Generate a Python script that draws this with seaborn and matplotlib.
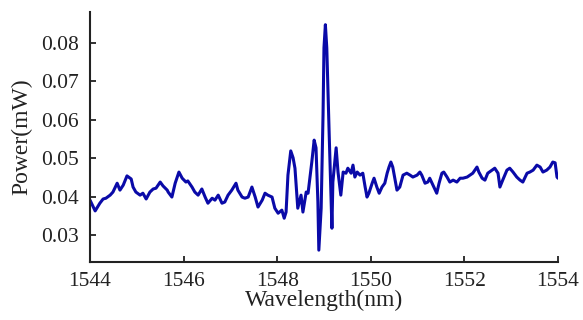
import numpy as np
import pandas as pd
import matplotlib
matplotlib.use('Agg')
import matplotlib.pyplot as plt
import seaborn as sns

# spectrum
wavelength = [1544.00, 1544.11, 1544.21, 1544.28, 1544.34, 1544.43, 1544.49, 1544.58, 1544.64, 1544.71,
              1544.79, 1544.88, 1544.92, 1544.98, 1545.07, 1545.13, 1545.20, 1545.28, 1545.35, 1545.41,
              1545.50, 1545.56, 1545.65, 1545.67, 1545.75, 1545.82, 1545.90, 1545.97, 1546.05, 1546.09,
              1546.18, 1546.24, 1546.31, 1546.39, 1546.46, 1546.52, 1546.61, 1546.67, 1546.74, 1546.82,
              1546.88, 1546.95, 1547.03, 1547.12, 1547.16, 1547.25, 1547.31, 1547.38, 1547.46, 1547.53,
              1547.59, 1547.68, 1547.74, 1547.80, 1547.89, 1547.95, 1548.02, 1548.10, 1548.15, 1548.19,
              1548.23, 1548.29, 1548.34, 1548.38, 1548.44, 1548.51, 1548.55, 1548.62, 1548.66, 1548.74,
              1548.79, 1548.83, 1548.87, 1548.89, 1548.94, 1548.98, 1549.00, 1549.03, 1549.06, 1549.11,
              1549.15, 1549.17, 1549.19, 1549.26, 1549.30, 1549.36, 1549.41, 1549.47, 1549.51, 1549.58,
              1549.62, 1549.66, 1549.71, 1549.77, 1549.83, 1549.88, 1549.92, 1549.96, 1550.03, 1550.07,
              1550.13, 1550.18, 1550.24, 1550.30, 1550.35, 1550.39, 1550.43, 1550.47, 1550.52, 1550.56,
              1550.62, 1550.69, 1550.77, 1550.84, 1550.90, 1550.99, 1551.05, 1551.09, 1551.16, 1551.22,
              1551.26, 1551.33, 1551.41, 1551.46, 1551.52, 1551.56, 1551.63, 1551.69, 1551.76, 1551.84,
              1551.91, 1551.97, 1552.06, 1552.12, 1552.18, 1552.27, 1552.31, 1552.38, 1552.44, 1552.50,
              1552.59, 1552.65, 1552.72, 1552.76, 1552.82, 1552.91, 1552.97, 1553.04, 1553.12, 1553.19,
              1553.25, 1553.34, 1553.40, 1553.47, 1553.55, 1553.62, 1553.68, 1553.76, 1553.83, 1553.89,
              1553.94, 1553.98, 1554.00]
power = [0.0391, 0.0363, 0.0383, 0.0394, 0.0396, 0.0404, 0.0412, 0.0435, 0.0417, 0.0430,
         0.0454, 0.0446, 0.0425, 0.0412, 0.0404, 0.0409, 0.0394, 0.0412, 0.0420, 0.0422,
         0.0438, 0.0428, 0.0417, 0.0412, 0.0399, 0.0435, 0.0464, 0.0448, 0.0438, 0.0441,
         0.0425, 0.0412, 0.0404, 0.0420, 0.0399, 0.0383, 0.0396, 0.0391, 0.0404, 0.0383,
         0.0386, 0.0404, 0.0417, 0.0435, 0.0417, 0.0399, 0.0396, 0.0399, 0.0425, 0.0399,
         0.0373, 0.0391, 0.0409, 0.0404, 0.0399, 0.0370, 0.0357, 0.0365, 0.0344, 0.0360,
         0.0456, 0.0519, 0.0501, 0.0474, 0.0370, 0.0404, 0.0360, 0.0412, 0.0409, 0.0490,
         0.0547, 0.0527, 0.0386, 0.0261, 0.0370, 0.0613, 0.0787, 0.0847, 0.0787, 0.0568,
         0.0404, 0.0318, 0.0438, 0.0527, 0.0464, 0.0404, 0.0464, 0.0461, 0.0474, 0.0461,
         0.0482, 0.0451, 0.0464, 0.0456, 0.0461, 0.0425, 0.0399, 0.0409, 0.0435, 0.0448,
         0.0425, 0.0409, 0.0425, 0.0435, 0.0461, 0.0477, 0.0490, 0.0477, 0.0443, 0.0417,
         0.0425, 0.0456, 0.0461, 0.0456, 0.0451, 0.0456, 0.0464, 0.0456, 0.0435, 0.0438,
         0.0448, 0.0430, 0.0409, 0.0435, 0.0461, 0.0464, 0.0451, 0.0438, 0.0443, 0.0438,
         0.0448, 0.0448, 0.0451, 0.0456, 0.0461, 0.0477, 0.0464, 0.0448, 0.0443, 0.0461,
         0.0469, 0.0474, 0.0461, 0.0425, 0.0443, 0.0469, 0.0474, 0.0464, 0.0451, 0.0443,
         0.0438, 0.0461, 0.0464, 0.0469, 0.0482, 0.0477, 0.0464, 0.0469, 0.0477, 0.0490,
         0.0488, 0.0451, 0.0448]

x_ticks = [1544, 1546, 1548, 1550, 1552, 1554]
y_ticks = [0.03, 0.04, 0.05, 0.06, 0.07, 0.08]

df = pd.DataFrame({'wavelength': wavelength, 'power': power})

sns.set_style('ticks')
plt.rcParams['font.family'] = ['Liberation Serif', 'DejaVu Serif']

fig = plt.figure(figsize=(5.83, 3.2), dpi=100)
ax = fig.add_axes([0.1544, 0.181, 0.8026, 0.7815])

sns.lineplot(data=df, x='wavelength', y='power', color='#0a0aa8', linewidth=2.2, ax=ax)

ax.set_xlim(1544, 1554)
ax.set_ylim(0.023, 0.088)
ax.set_xticks(x_ticks)
ax.set_yticks(y_ticks)
ax.set_yticklabels([f'{v:.2f}' for v in y_ticks])
ax.tick_params(direction='in', length=4, width=1.3, labelsize=15.5, colors='#222222')
ax.tick_params(axis='y', pad=8)
ax.tick_params(axis='x', pad=7)
ax.set_xlabel('Wavelength(nm)', fontsize=17, color='#222222', labelpad=-1)
ax.set_ylabel('Power(mW)', fontsize=17, color='#222222', labelpad=6)

sns.despine(ax=ax)
for side in ['left', 'bottom']:
    ax.spines[side].set_linewidth(1.5)
    ax.spines[side].set_color('#222222')

fig.savefig('out.png', dpi=100)
